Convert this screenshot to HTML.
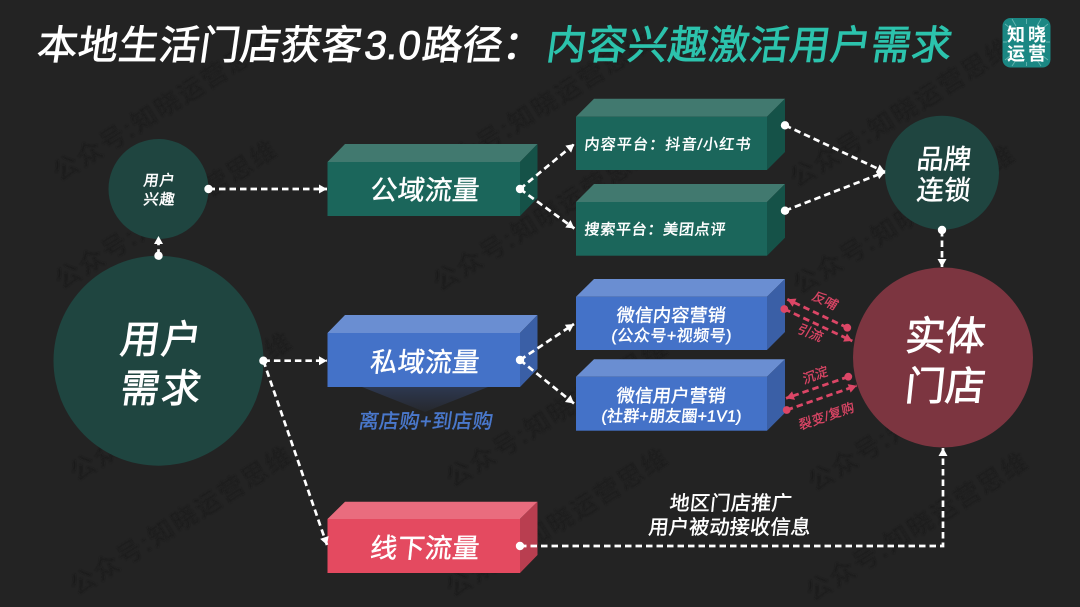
<!DOCTYPE html>
<html><head><meta charset="utf-8"><style>
html,body{margin:0;padding:0;background:#232323;width:1080px;height:607px;overflow:hidden}
svg{display:block}
text{font-family:"Liberation Sans","Noto Sans CJK SC",sans-serif;fill:#fff;text-anchor:start}
.wm text{fill:#1d1d1d;font-size:25px}
.c{stroke:#fff;stroke-width:2.7;stroke-dasharray:6.5 4;fill:none}
.r{stroke:#dc4666;stroke-width:2.8;stroke-dasharray:6.5 4;fill:none}
.b text{stroke:#fff;stroke-width:.45}
.rt text{fill:#dc4666;stroke:#dc4666;stroke-width:.3}
.t{stroke:#fff;stroke-width:.8}
</style></head><body>
<svg xmlns="http://www.w3.org/2000/svg" width="1080" height="607" viewBox="0 0 1080 607">
<defs>
<marker id="aw" markerUnits="userSpaceOnUse" markerWidth="12" markerHeight="12" refX="10" refY="6" orient="auto"><path d="M2 1.5L10 6L2 10.5Z" fill="#fff"/></marker>
<marker id="ar" markerUnits="userSpaceOnUse" markerWidth="12" markerHeight="12" refX="10" refY="6" orient="auto"><path d="M2 1.5L10 6L2 10.5Z" fill="#dc4666"/></marker>
<linearGradient id="sh" x1="0" y1="0" x2="0" y2="1"><stop offset="0" stop-color="#2d3850"/><stop offset="1" stop-color="#26282d"/></linearGradient>
<filter id="bl"><feGaussianBlur stdDeviation="0.9"/></filter>
</defs>
<rect width="1080" height="607" fill="#232323"/>

<!-- watermarks -->
<g class="wm" filter="url(#bl)">
<text transform="translate(60,182) rotate(-32)" textLength="255">公众号:知晓运营思维</text>
<text transform="translate(62,290) rotate(-32)" textLength="255">公众号:知晓运营思维</text>
<text transform="translate(77,482) rotate(-32)" textLength="255">公众号:知晓运营思维</text>
<text transform="translate(77,596) rotate(-32)" textLength="255">公众号:知晓运营思维</text>
<text transform="translate(437,182) rotate(-32)" textLength="255">公众号:知晓运营思维</text>
<text transform="translate(440,292) rotate(-32)" textLength="255">公众号:知晓运营思维</text>
<text transform="translate(453,488) rotate(-32)" textLength="255">公众号:知晓运营思维</text>
<text transform="translate(453,598) rotate(-32)" textLength="255">公众号:知晓运营思维</text>
<text transform="translate(797,188) rotate(-32)" textLength="255">公众号:知晓运营思维</text>
<text transform="translate(800,295) rotate(-32)" textLength="255">公众号:知晓运营思维</text>
<text transform="translate(815,492) rotate(-32)" textLength="255">公众号:知晓运营思维</text>
<text transform="translate(813,602) rotate(-32)" textLength="255">公众号:知晓运营思维</text>
</g>

<!-- title -->
<text class="t" transform="translate(36,59) skewX(-8)" font-size="40" textLength="324">本地生活门店获客</text>
<text class="t" transform="translate(363,59) skewX(-8)" font-size="40" textLength="56">3.0</text>
<text class="t" transform="translate(421,59) skewX(-8)" font-size="40">路径&#65306;</text>
<text transform="translate(545,59) skewX(-8)" font-size="40" textLength="405" style="fill:#2cc3ad;stroke:#2cc3ad;stroke-width:.8">内容兴趣激活用户需求</text>

<!-- logo -->
<rect x="1002.5" y="18" width="48" height="49.5" rx="8" fill="#1b8783"/>
<g stroke="#7cc4bf" stroke-width="0.9" opacity=".75">
<path d="M1005 24L1015 32M1048 24L1038 32M1005 60L1015 52M1048 60L1038 52M1026.5 19V24M1026.5 62V66M1003 42H1007M1046 42H1050M1012 19L1016 26M1041 19L1037 26M1012 66L1016 60M1041 66L1037 60"/>
</g>
<text font-size="18" font-weight="700" x="1007" y="41" textLength="39">知晓</text>
<text font-size="18" font-weight="700" x="1007" y="60" textLength="39">运营</text>

<!-- circles -->
<circle cx="158.5" cy="189" r="50" fill="#1f4540"/>
<circle cx="158.5" cy="360.7" r="105" fill="#1f4540"/>
<circle cx="942" cy="172.7" r="57" fill="#1f4540"/>
<circle cx="943" cy="357.5" r="90" fill="#7c3540"/>

<!-- shadow under private box -->
<path d="M362 387H488L425 412Z" fill="url(#sh)"/>

<!-- green boxes -->
<g>
<path d="M327.5 162L345 144H537.5L520 162Z" fill="#41796f"/><path d="M520 162L537.5 144V198L520 216Z" fill="#155248"/><rect x="327.5" y="162" width="192.5" height="54" fill="#1b665b"/>
<path d="M576 116.7L594 98.7H785L767 116.7Z" fill="#41796f"/><path d="M767 116.7L785 98.7V152L767 170Z" fill="#155248"/><rect x="576" y="116.7" width="191" height="53.3" fill="#1b665b"/>
<path d="M576 202L594 184H785L767 202Z" fill="#41796f"/><path d="M767 202L785 184V237.7L767 255.7Z" fill="#155248"/><rect x="576" y="202" width="191" height="53.7" fill="#1b665b"/>
</g>
<!-- blue boxes -->
<g>
<path d="M327.5 333L345 315H537.5L520 333Z" fill="#6a8ed2"/><path d="M520 333L537.5 315V369L520 387Z" fill="#3a5fa6"/><rect x="327.5" y="333" width="192.5" height="54" fill="#4472c8"/>
<path d="M576 296.7L594 279H785L767 296.7Z" fill="#6a8ed2"/><path d="M767 296.7L785 279V332L767 350Z" fill="#3a5fa6"/><rect x="576" y="296.7" width="191" height="53.3" fill="#4472c8"/>
<path d="M576 376.7L594 359.3H785L767 376.7Z" fill="#6a8ed2"/><path d="M767 376.7L785 359.3V412.7L767 430.7Z" fill="#3a5fa6"/><rect x="576" y="376.7" width="191" height="54" fill="#4472c8"/>
</g>
<!-- red box -->
<path d="M327.5 519L345 501.7H537.5L520 519Z" fill="#e96c7e"/><path d="M520 519L537.5 501.7V555L520 573Z" fill="#b93e50"/><rect x="327.5" y="519" width="192.5" height="54" fill="#e44a60"/>

<!-- connectors -->
<path class="c" d="M208.5 189H327" marker-end="url(#aw)"/>
<path class="c" d="M158.5 255.7V236" marker-end="url(#aw)"/>
<path class="c" d="M520 189L574.4 144" marker-end="url(#aw)"/>
<path class="c" d="M520 189L574.4 228.5" marker-end="url(#aw)"/>
<path class="c" d="M520 360L574 324" marker-end="url(#aw)"/>
<path class="c" d="M520 360L574 403.5" marker-end="url(#aw)"/>
<path class="c" d="M263.4 360.7H327" marker-end="url(#aw)"/>
<path class="c" d="M263.4 360.7L327 545" marker-end="url(#aw)"/>
<path class="c" d="M520 546H943V448" marker-end="url(#aw)"/>
<path class="c" d="M785 125.3L885 172" marker-end="url(#aw)"/>
<path class="c" d="M785 210.7L885 172" marker-end="url(#aw)"/>
<path class="c" d="M942 230V267" marker-end="url(#aw)"/>
<g fill="#fff">
<circle cx="208.5" cy="189" r="4.2"/><circle cx="158.5" cy="255.7" r="4.2"/><circle cx="520" cy="189" r="4.2"/><circle cx="520" cy="360" r="4.2"/><circle cx="263.4" cy="360.7" r="4.2"/><circle cx="520" cy="546" r="4.2"/><circle cx="785" cy="125.3" r="4.2"/><circle cx="785" cy="210.7" r="4.2"/><circle cx="942" cy="230" r="4.2"/>
</g>

<!-- red connectors -->
<path class="r" d="M847.3 327.7L787.3 299.3" marker-end="url(#ar)"/>
<path class="r" d="M784.3 309L852.3 341" marker-end="url(#ar)"/>
<path class="r" d="M848.3 376.7L786 398.3" marker-end="url(#ar)"/>
<path class="r" d="M786.7 410L856.7 385.7" marker-end="url(#ar)"/>
<g fill="#dc4666"><circle cx="847.3" cy="327.7" r="3.9"/><circle cx="784.3" cy="309" r="3.9"/><circle cx="848.3" cy="376.7" r="3.9"/><circle cx="786.7" cy="410" r="3.9"/></g>
<g class="rt" font-size="13">
<text transform="translate(811,299) rotate(25) skewX(-8)">反哺</text>
<text transform="translate(796,332) rotate(22) skewX(-8)">引流</text>
<text transform="translate(804,384) rotate(-20) skewX(-8)">沉淀</text>
<text transform="translate(800,430) rotate(-19) skewX(-8)" textLength="58">裂变/复购</text>
</g>

<!-- labels -->
<g class="b">
<text transform="translate(369.5,199.5) skewX(-6)" font-size="27" textLength="109">公域流量</text>
<text transform="translate(369.5,371.5) skewX(-6)" font-size="27" textLength="109">私域流量</text>
<text transform="translate(369.5,557.5) skewX(-6)" font-size="27" textLength="109">线下流量</text>
<text transform="translate(358,428) skewX(-8)" font-size="20" textLength="134" style="fill:#4a78cc;stroke:#4a78cc">离店购+到店购</text>
<text transform="translate(119,353) skewX(-8)" font-size="39" textLength="80" style="stroke-width:.8">用户</text>
<text transform="translate(119,402) skewX(-8)" font-size="39" textLength="80" style="stroke-width:.8">需求</text>
<text transform="translate(143,185.5) skewX(-8)" font-size="15" textLength="31">用户</text>
<text transform="translate(143,204.5) skewX(-8)" font-size="15" textLength="31">兴趣</text>
<text transform="translate(916,168.5) skewX(-6)" font-size="27" textLength="54">品牌</text>
<text transform="translate(916,199.5) skewX(-6)" font-size="27" textLength="54">连锁</text>
<text transform="translate(904,350) skewX(-6)" font-size="40" textLength="80" style="stroke-width:.8">实体</text>
<text transform="translate(904,400) skewX(-6)" font-size="40" textLength="80" style="stroke-width:.8">门店</text>
<text transform="translate(584,149.5) skewX(-6)" font-size="15" textLength="166">内容平台&#65306;抖音/小红书</text>
<text transform="translate(584,234.5) skewX(-6)" font-size="15" textLength="141">搜索平台&#65306;美团点评</text>
<text transform="translate(616,321.5) skewX(-6)" font-size="18" textLength="109">微信内容营销</text>
<text transform="translate(611,341) skewX(-6)" font-size="16" textLength="120">(公众号+视频号)</text>
<text transform="translate(616,402) skewX(-6)" font-size="18" textLength="109">微信用户营销</text>
<text transform="translate(601,421.5) skewX(-6)" font-size="16" textLength="140">(社群+朋友圈+1V1)</text>
<text transform="translate(669,510) skewX(-6)" font-size="20" textLength="122">地区门店推广</text>
<text transform="translate(648,534) skewX(-6)" font-size="20" textLength="162">用户被动接收信息</text>
</g>
</svg>
</body></html>
